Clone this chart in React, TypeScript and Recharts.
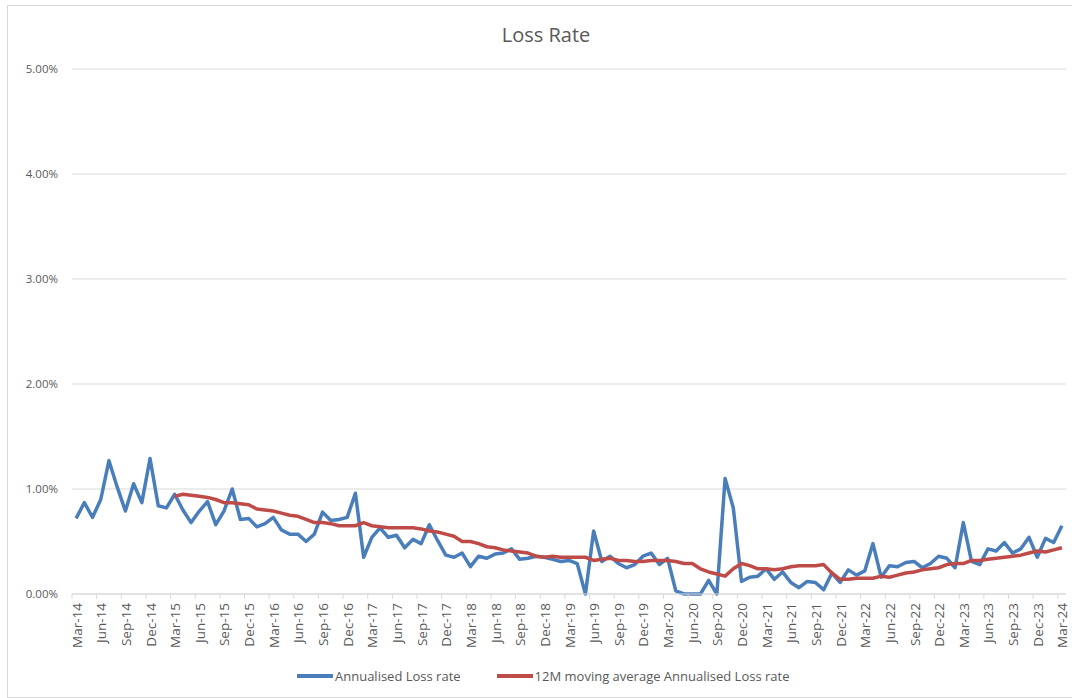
import { LineChart, Line, XAxis, YAxis, CartesianGrid } from 'recharts';

const months = ['Jan', 'Feb', 'Mar', 'Apr', 'May', 'Jun', 'Jul', 'Aug', 'Sep', 'Oct', 'Nov', 'Dec'];

// Mar-14 .. Mar-24, monthly
const categories: string[] = [];
for (let y = 14; y <= 24; y++) {
    for (let m = 0; m < 12; m++) {
        if ((y === 14 && m < 2) || (y === 24 && m > 2)) continue;
        categories.push(`${months[m]}-${y}`);
    }
}

// values in %
const annualised = [
    0.72, 0.87, 0.73, 0.90, 1.27, 1.02, 0.79, 1.05, 0.87, 1.29, 0.84, 0.82, 0.95,
    0.80, 0.68, 0.79, 0.88, 0.66, 0.79, 1.00, 0.71, 0.72, 0.64, 0.67, 0.73, 0.61, 0.57, 0.57, 0.50, 0.57,
    0.78, 0.70, 0.71, 0.73, 0.96, 0.35, 0.54, 0.63, 0.54, 0.56, 0.44, 0.52, 0.48, 0.66, 0.51, 0.37, 0.35, 0.39, 0.26, 0.36, 0.34, 0.38, 0.39, 0.43, 0.33, 0.34, 0.36, 0.35,
    0.33, 0.31, 0.32, 0.29, 0.00, 0.60, 0.31, 0.36, 0.29, 0.25, 0.28, 0.36, 0.39, 0.28, 0.34, 0.03, 0.00, 0.00, 0.00, 0.13, 0.00, 1.10, 0.82, 0.12, 0.16, 0.17, 0.24, 0.14, 0.21, 0.11, 0.06,
    0.12, 0.11, 0.04, 0.20, 0.11, 0.23, 0.18, 0.22, 0.48, 0.16, 0.27, 0.26, 0.30, 0.31, 0.25, 0.29, 0.36, 0.34, 0.25, 0.68, 0.31, 0.28, 0.43, 0.41, 0.49, 0.39, 0.43, 0.54, 0.35, 0.53, 0.49, 0.65,
];

const movingAvg = [
    null, null, null, null, null, null, null, null, null, null, null, null,
    0.93, 0.95, 0.94, 0.93, 0.92, 0.90, 0.87, 0.87, 0.86, 0.85, 0.81, 0.80, 0.79, 0.77, 0.75, 0.74, 0.71, 0.68,
    0.68, 0.67, 0.65, 0.65, 0.65, 0.68, 0.65, 0.64, 0.63, 0.63, 0.63, 0.63, 0.62, 0.60, 0.59, 0.57, 0.55, 0.50, 0.50, 0.48, 0.45, 0.44, 0.42, 0.41, 0.40, 0.39, 0.36, 0.35,
    0.36, 0.35, 0.35, 0.35, 0.35, 0.32, 0.33, 0.34, 0.32, 0.32, 0.31, 0.31, 0.32, 0.32, 0.32, 0.31, 0.29, 0.29, 0.24, 0.21, 0.19, 0.17, 0.24, 0.29, 0.27, 0.24, 0.24, 0.23, 0.24, 0.26, 0.27,
    0.27, 0.27, 0.28, 0.20, 0.14, 0.14, 0.15, 0.15, 0.15, 0.17, 0.16, 0.18, 0.20, 0.21, 0.23, 0.24, 0.25, 0.28, 0.29, 0.29, 0.32, 0.32, 0.33, 0.34, 0.35, 0.36, 0.37, 0.39, 0.41, 0.40, 0.42, 0.44,
];

const yTicks = [0, 1, 2, 3, 4, 5];

const data = categories.map((c, i) => ({ month: c, annual: annualised[i], avg: movingAvg[i] }));

const FONT = '"Open Sans", sans-serif';
const TEXT = '#595959';
const GRID = '#d9d9d9';
const BLUE = '#4a7ebb';
const RED = '#be4b48';

const series = [
    { key: 'annual', name: 'Annualised Loss rate', color: BLUE },
    { key: 'avg', name: '12M moving average Annualised Loss rate', color: RED },
];

const PLOT_LEFT = 72;
const PLOT_RIGHT = 1066;
const BAND = (PLOT_RIGHT - PLOT_LEFT) / categories.length;

function MonthTick(props: any) {
    const { x, y, payload } = props;
    return (
        <g>
            <line x1={x - BAND / 2} x2={x - BAND / 2} y1={y} y2={y + 5} stroke={GRID} />
            <text
                x={0}
                y={0}
                transform={`translate(${x + 5.5},${y + 9}) rotate(-90)`}
                textAnchor="end"
                fontSize={13.5}
                fontFamily={FONT}
                fill={TEXT}
            >
                {payload.value}
            </text>
        </g>
    );
}

export default function App() {
    return (
        <div style={{ position: 'absolute', left: 0, top: 0, width: 1072, height: 698, overflow: 'hidden', background: '#fff' }}>
            <div style={{ position: 'absolute', left: 7, top: 5, width: 1080, height: 691, border: `1px solid ${GRID}` }} />
            <div style={{ position: 'absolute', left: 446, top: 25, width: 200, textAlign: 'center', fontFamily: FONT, fontSize: 20, lineHeight: '20px', color: TEXT }}>
                Loss Rate
            </div>
            <div style={{ position: 'absolute', left: 0, top: 0 }}>
                <LineChart width={1072} height={698} data={data} margin={{ top: 69, right: 1072 - PLOT_RIGHT, bottom: 0, left: 0 }}>
                    <CartesianGrid vertical={false} stroke={GRID} strokeWidth={1} />
                    <XAxis
                        dataKey="month"
                        interval={2}
                        height={104}
                        padding={{ left: BAND / 2, right: BAND / 2 }}
                        stroke={GRID}
                        tickLine={false}
                        tickSize={0}
                        tickMargin={0}
                        tick={<MonthTick />}
                    />
                    <YAxis
                        width={PLOT_LEFT}
                        domain={[0, 5]}
                        ticks={yTicks}
                        axisLine={false}
                        tickLine={false}
                        tickSize={0}
                        tickMargin={14}
                        tickFormatter={(v: number) => `${v.toFixed(2)}%`}
                        tick={{ fontSize: 11.5, fontFamily: FONT, fill: TEXT }}
                    />
                    {series.map((s) => (
                        <Line
                            key={s.key}
                            type="linear"
                            dataKey={s.key}
                            name={s.name}
                            stroke={s.color}
                            strokeWidth={3.5}
                            dot={false}
                            strokeLinejoin="round"
                            isAnimationActive={false}
                        />
                    ))}
                </LineChart>
            </div>
            <div style={{ position: 'absolute', left: 297, top: 667, display: 'flex', alignItems: 'center', fontFamily: FONT, fontSize: 13, lineHeight: '18px', color: TEXT }}>
                {series.map((s) => (
                    <div key={s.key} style={{ display: 'flex', alignItems: 'center', marginRight: 36 }}>
                        <div style={{ width: 36, height: 3.5, background: s.color, marginRight: 2 }} />
                        <span>{s.name}</span>
                    </div>
                ))}
            </div>
        </div>
    );
}
